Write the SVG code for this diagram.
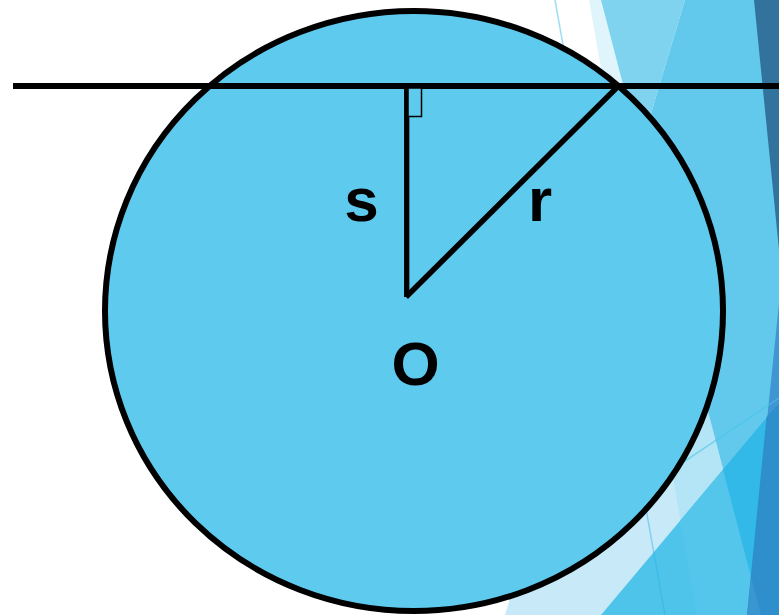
<svg xmlns="http://www.w3.org/2000/svg" width="779" height="615" viewBox="0 0 779 615">
<style>
.lbl{font-family:"Liberation Sans",Arial,sans-serif;font-weight:bold;font-size:62px;fill:#000;text-anchor:middle}
.ln{stroke:#000;fill:none;stroke-linecap:butt}
</style>
<g id="background">
<rect x="0" y="0" width="779" height="615" fill="#ffffff"/>
<polygon points="505,615 600,300 679,300 761,615" fill="#c8eaf8"/>
<polygon points="589,0 601,0 761,615 697,615" fill="#e0f4fb"/>
<polygon points="641.5,300 679,300 761,615 697,615" fill="#b3e5f6"/>
<polygon points="601,0 685,0 640,150" fill="#7fd3ef"/>
<polygon points="685,0 779,0 779,615 761,615 640,150" fill="#62c9ec"/>
<polygon points="754,0 779,0 779,250" fill="#31739c"/>
<polygon points="779,303 779,615 747,615" fill="#4096d2"/>
<polygon points="601,615 779,403 779,615" fill="#4fc4ea"/>
<polygon points="680,520.8 723,469.6 761,615 697,615" fill="#55c6eb"/>
<polygon points="723,469.6 779,403 779,615 761,615" fill="#33b9e7"/>
<polygon points="766.5,417 779,403 779,615 747,615" fill="#2e8fcc"/>
<polygon points="751,576.7 761,615 747,615" fill="#3a96d0"/>
<line x1="555" y1="0" x2="665" y2="615" stroke="rgba(40,180,230,0.45)" stroke-width="1.5"/>
<line x1="600" y1="518" x2="779" y2="398" stroke="rgba(70,195,235,0.6)" stroke-width="1.5"/>
</g>
<g id="circle">
<ellipse cx="414" cy="311" rx="309" ry="300" fill="#5ecaee" stroke="#000" stroke-width="6"/>
</g>
<g id="connectors">
<line class="ln" x1="13" y1="86" x2="779" y2="86" stroke-width="6"/>
<line class="ln" x1="406.7" y1="86" x2="406.7" y2="297" stroke-width="5.3"/>
<line class="ln" x1="406" y1="297" x2="618.4" y2="86" stroke-width="5.5"/>
<rect x="408" y="88" width="13.5" height="28.5" fill="#5ecaee" stroke="#000" stroke-width="1.5"/>
</g>
<g id="label-s"><text class="lbl" x="361.5" y="221">s</text></g>
<g id="label-r"><text class="lbl" x="540" y="221">r</text></g>
<g id="label-O"><text class="lbl" x="415.5" y="385">O</text></g>
</svg>
